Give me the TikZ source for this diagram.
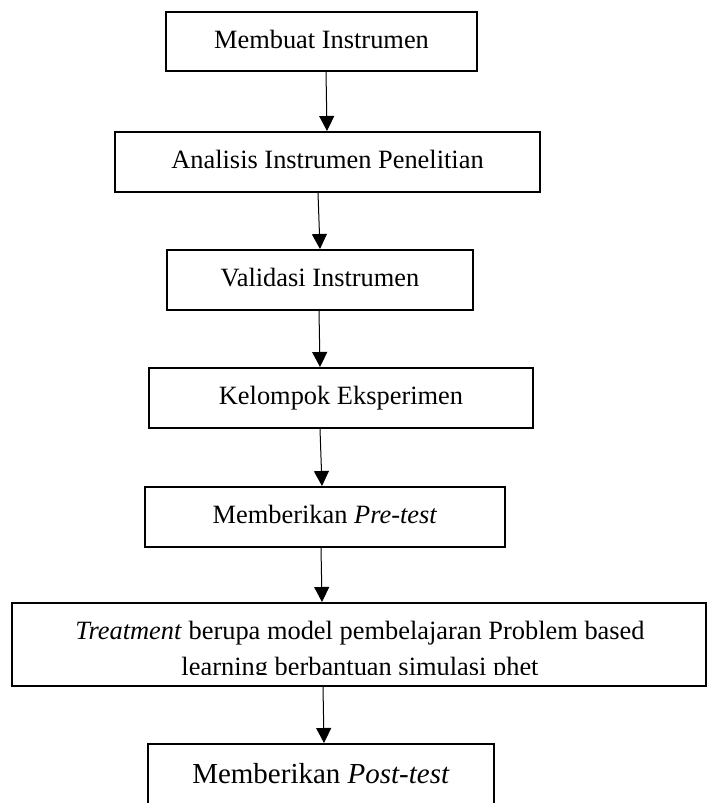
\documentclass[tikz,border=0pt]{standalone}
\usepackage{fontspec}
\setmainfont{Liberation Serif}
\usetikzlibrary{positioning,arrows.meta}

\begin{document}
\begin{tikzpicture}[-{Triangle[width=7.5pt,length=7.5pt]},line width=0.5pt,node distance=28pt,
                    stage node/.style={rectangle,draw,line width=1pt,minimum height=30pt,inner sep=0pt,
                                       text height=10pt,text depth=3.3pt,font=\fontsize{13.2}{16}\selectfont}]

  \useasboundingbox (0,0) rectangle (353.5pt,-401.5pt);

  \node[stage node,minimum width=155.5pt,minimum height=29.5pt] (1) at (160.75pt,-20.75pt) {Membuat Instrumen};
  \node[stage node,minimum width=212.5pt] (2) [below=29.5pt of 1,xshift=3pt] {Analisis Instrumen Penelitian};
  \node[stage node,minimum width=153pt] (3) [below=of 2,xshift=-3.75pt] {Validasi Instrumen};
  \node[stage node,minimum width=192pt] (4) [below=of 3,xshift=10.5pt] {Kelompok Eksperimen};
  \node[stage node,minimum width=180pt] (5) [below=28.5pt of 4,xshift=-8pt] {Memberikan \textit{Pre-test}};
  \node[stage node,minimum width=347pt,minimum height=41.5pt] (6) [below=27pt of 5,xshift=17pt] {};
  \node[stage node,minimum width=173pt,minimum height=33pt,font=\fontsize{14.5}{17}\selectfont] (7) [below=of 6,xshift=-19pt] {Memberikan \textit{Post-test}};

  \begin{scope}
    \clip (6.north west) rectangle ([yshift=-36pt]6.north east);
    \node[font=\fontsize{13.2}{18}\selectfont,align=center,anchor=base] (t6) at ([xshift=0.5pt,yshift=-36.5pt]6.north)
      {\textit{Treatment} berupa model pembelajaran Problem based\\learning berbantuan simulasi phet};
  \end{scope}

  \path
    ([xshift=2.25pt]1.south) edge ([xshift=-0.25pt]2.north)
    ([xshift=-4.75pt]2.south) edge (3.north)
    ([xshift=-0.5pt]3.south) edge ([xshift=-10.5pt]4.north)
    ([xshift=-10.5pt]4.south) edge ([xshift=-1.5pt]5.north)
    ([xshift=-2pt]5.south) edge ([xshift=-18.5pt]6.north)
    ([xshift=-18pt]6.south) edge ([xshift=1.5pt]7.north);
\end{tikzpicture}
\end{document}
